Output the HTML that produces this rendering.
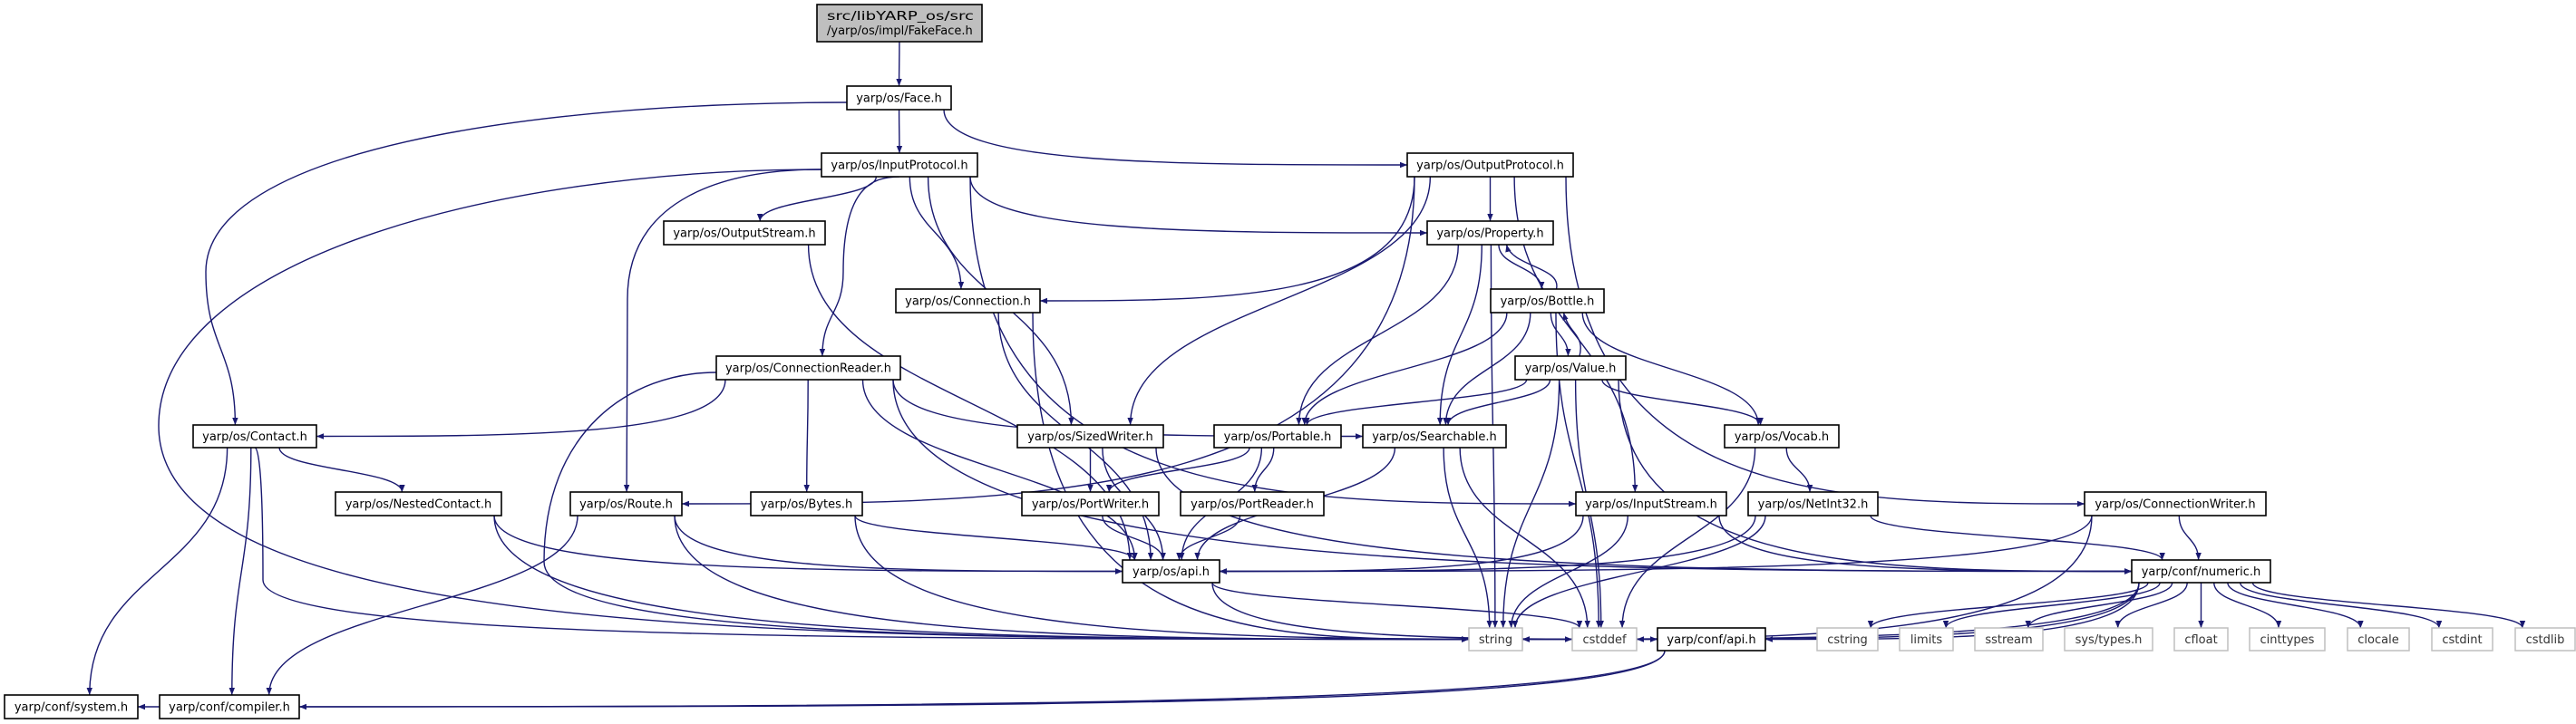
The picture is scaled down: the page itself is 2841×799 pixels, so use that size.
<!DOCTYPE html>
<html><head><meta charset="utf-8">
<style>
html,body{margin:0;padding:0;background:#fff;}
svg{display:block;}
text{font-family:"DejaVu Sans","Liberation Sans",sans-serif;font-size:13px;}
</style></head>
<body>
<svg id="g" width="2841" height="799" viewBox="0 0 2841 799" xmlns="http://www.w3.org/2000/svg">
<defs>
<marker id="ah" viewBox="0 0 10 10" refX="10" refY="5" markerWidth="8" markerHeight="8" markerUnits="userSpaceOnUse" orient="auto">
<path d="M0,1 L10,5 L0,9 z" fill="#191970"/>
</marker>
</defs>
<g id="edges"></g>
<g id="nodes"></g>
</svg>
<script>
const nodeIds = ["fake","face","inproto","outproto","outstream","property","connection","bottle","connreader","value","contact","sized","portable","searchable","vocab","nested","route","bytes","portwriter","portreader","instream","netint","connwriter","api","numeric","string","cstddef","confapi","cstring","limits","sstream","systypes","cfloat","cinttypes","clocale","cstdint","cstdlib","system","compiler"];
const nodeLabels = ["src/libYARP_os/src|/yarp/os/impl/FakeFace.h","yarp/os/Face.h","yarp/os/InputProtocol.h","yarp/os/OutputProtocol.h","yarp/os/OutputStream.h","yarp/os/Property.h","yarp/os/Connection.h","yarp/os/Bottle.h","yarp/os/ConnectionReader.h","yarp/os/Value.h","yarp/os/Contact.h","yarp/os/SizedWriter.h","yarp/os/Portable.h","yarp/os/Searchable.h","yarp/os/Vocab.h","yarp/os/NestedContact.h","yarp/os/Route.h","yarp/os/Bytes.h","yarp/os/PortWriter.h","yarp/os/PortReader.h","yarp/os/InputStream.h","yarp/os/NetInt32.h","yarp/os/ConnectionWriter.h","yarp/os/api.h","yarp/conf/numeric.h","string","cstddef","yarp/conf/api.h","cstring","limits","sstream","sys/types.h","cfloat","cinttypes","clocale","cstdint","cstdlib","yarp/conf/system.h","yarp/conf/compiler.h"];
const nodeX0 = [901,934,906,1552,732,1574,988,1644,790,1671,213,1122,1339,1503,1902,370,629,828,1127,1302,1738,1928,2299,1238,2351,1620,1734,1828,2004,2095,2178,2277,2398,2481,2589,2682,2774,5,176];
const nodeX1 = [1083,1049,1078,1735,910,1713,1147,1769,993,1793,349,1283,1479,1661,2028,553,752,951,1278,1460,1904,2071,2499,1345,2504,1679,1805,1947,2071,2154,2253,2374,2457,2564,2657,2749,2840,152,330];
const nodeY0 = [5,95,169,169,244,244,319,319,393,393,469,469,469,469,469,543,543,543,543,543,543,543,543,618,618,693,693,693,693,693,693,693,693,693,693,693,693,767,767];
const nodeH = [41,26,26,26,26,26,26,26,26,26,25,25,25,25,25,26,26,26,26,26,26,26,26,25,25,25,25,25,25,25,25,25,25,25,25,25,25,26,26];
const nodeKind = ["root","n","n","n","n","n","n","n","n","n","n","n","n","n","n","n","n","n","n","n","n","n","n","n","n","sys","sys","n","sys","sys","sys","sys","sys","sys","sys","sys","sys","n","n"];
const edgeFrom = ["fake","face","face","face","inproto","inproto","inproto","inproto","inproto","inproto","inproto","inproto","outproto","outproto","outproto","outproto","outproto","outproto","outstream","property","property","property","property","connection","connection","bottle","bottle","bottle","bottle","bottle","bottle","connreader","connreader","connreader","connreader","connreader","connreader","value","value","value","value","value","value","value","contact","contact","contact","contact","sized","sized","sized","portable","portable","portable","searchable","searchable","searchable","vocab","vocab","nested","nested","route","route","route","bytes","bytes","portwriter","portreader","instream","instream","instream","netint","netint","netint","connwriter","connwriter","connwriter","api","api","numeric","numeric","numeric","numeric","numeric","numeric","numeric","numeric","numeric","numeric","numeric","numeric","confapi","confapi"];
const edgeTo = ["face","contact","inproto","outproto","outstream","connection","connreader","route","sized","instream","property","string","connection","sized","property","route","instream","connwriter","api","portable","searchable","bottle","string","api","string","property","value","portable","searchable","vocab","cstddef","contact","bytes","searchable","string","api","numeric","bottle","portable","searchable","vocab","string","cstddef","numeric","nested","system","compiler","string","portwriter","api","numeric","portwriter","portreader","api","api","string","cstddef","netint","cstddef","api","string","api","string","compiler","api","cstddef","api","api","api","string","numeric","api","numeric","string","api","numeric","string","cstddef","confapi","string","cstddef","confapi","cstring","limits","sstream","systypes","cfloat","cinttypes","clocale","cstdint","cstdlib","system","compiler"];
const WP = {
  "face-contact":[227,300],
  "inproto-string":[175,470],
  "inproto-route":[692,330],
  "inproto-connreader":[930,300],
  "contact-string":[290,640],
  "connreader-string":[600,620]
};

const NS="http://www.w3.org/2000/svg";
const eg=document.getElementById('edges'), ng=document.getElementById('nodes');
const N={};
nodeIds.forEach((id,i)=>{N[id]={x0:nodeX0[i],x1:nodeX1[i],y0:nodeY0[i],y1:nodeY0[i]+nodeH[i],label:nodeLabels[i],kind:nodeKind[i]};});
function cx(n){return (n.x0+n.x1)/2;}
function cy(n){return (n.y0+n.y1)/2;}

edgeFrom.forEach((f,i)=>{
  const a=N[f], b=N[edgeTo[i]], key=f+'-'+edgeTo[i];
  let d;
  if (WP[key]) {
    const w=WP[key];
    let sx, sy;
    if (w[0] < a.x0) { sx=a.x0; sy=cy(a)+5; } else if (w[0] > a.x1) { sx=a.x1; sy=cy(a)+5; } else { sx=cx(a); sy=a.y1; }
    let tx, ty, approach;
    if (b.y0 - w[1] > 60 && w[0]>=b.x0-150 && w[0]<=b.x1+150) { tx=Math.max(b.x0+8,Math.min(b.x1-8,w[0]+(cx(b)-w[0])*0.6)); ty=b.y0; approach='v'; }
    else { tx = w[0] < b.x0 ? b.x0 : b.x1; ty=cy(b); approach='h'; }
    d=`M${sx},${sy} C${(sx+w[0])/2},${sy} ${w[0]},${(sy+w[1])/2-40} ${w[0]},${w[1]}`;
    if (approach==='v') d+=` C${w[0]},${(w[1]+ty)/2} ${tx},${(w[1]+ty)/2} ${tx},${ty}`;
    else d+=` C${w[0]},${ty} ${(w[0]+tx)/2},${ty} ${tx},${ty}`;
  } else if (b.y0 > a.y1) {
    let sx=cx(a), sy=a.y1;
    let tx=cx(b), ty=b.y0;
    const dx=tx-sx;
    sx = Math.max(a.x0+8, Math.min(a.x1-8, sx + dx*0.15));
    if (Math.abs(dx) > 500 && (b.y0 - a.y1) < 400) {
      ty=cy(b);
      tx = dx>0 ? b.x0 : b.x1;
      d=`M${sx},${sy} C${sx},${ty} ${(sx+tx)/2},${ty} ${tx},${ty}`;
    } else {
      tx = Math.max(b.x0+8, Math.min(b.x1-8, tx - dx*0.1));
      const my=(sy+ty)/2;
      d=`M${sx},${sy} C${sx},${my} ${tx},${my} ${tx},${ty}`;
    }
  } else if (b.y1 < a.y0) {
    const sx=cx(a)+10, sy=a.y0, tx=cx(b)+18, ty=b.y1;
    d=`M${sx},${sy} C${sx+6},${(sy+ty)/2} ${tx+6},${(sy+ty)/2} ${tx},${ty}`;
  } else {
    const sx = b.x0>a.x1? a.x1 : a.x0, tx = b.x0>a.x1? b.x0 : b.x1;
    const sy=cy(a), ty=cy(b);
    d=`M${sx},${sy} C${(sx+tx)/2},${sy} ${(sx+tx)/2},${ty} ${tx},${ty}`;
  }
  const p=document.createElementNS(NS,'path');
  p.setAttribute('d',d);
  p.setAttribute('fill','none');
  p.setAttribute('stroke','#191970');
  p.setAttribute('stroke-width','1.4');
  p.setAttribute('marker-end','url(#ah)');
  
  
  eg.appendChild(p);
});

nodeIds.forEach(id=>{
  const n=N[id];
  const g=document.createElementNS(NS,'g');
  
  
  const r=document.createElementNS(NS,'rect');
  r.setAttribute('x',n.x0);r.setAttribute('y',n.y0);
  r.setAttribute('width',n.x1-n.x0);r.setAttribute('height',n.y1-n.y0);
  r.setAttribute('fill', n.kind==='root' ? '#bfbfbf' : '#ffffff');
  r.setAttribute('stroke', n.kind==='sys' ? '#bfbfbf' : '#000000');
  r.setAttribute('stroke-width', n.kind==='sys' ? '1.5' : '1.6');
  
  
  g.appendChild(r);
  const lines=n.label.split('|');
  lines.forEach((ln,k)=>{
    const t=document.createElementNS(NS,'text');
    
    
    if (lines.length>1) {
      t.setAttribute('x', n.x0+11);
      t.setAttribute('y', n.y0+17+k*16);
    } else {
      t.setAttribute('x', cx(n));
      t.setAttribute('y', cy(n)+4.5);
      t.setAttribute('text-anchor','middle');
    }
    t.setAttribute('fill', n.kind==='sys' ? '#333333' : '#000000');
    t.textContent=ln;
    g.appendChild(t);
  });
  ng.appendChild(g);
});
ng.querySelectorAll('g').forEach(g=>{
  const r=g.querySelector('rect');
  const bw=parseFloat(r.getAttribute('width'));
  g.querySelectorAll('text').forEach(t=>{
    const w=t.getComputedTextLength();
    const target=bw-20;
    if (w>target || (w<target-6 && w>0)) {
      t.setAttribute('textLength', Math.max(10,target));
      t.setAttribute('lengthAdjust','spacingAndGlyphs');
    }
  });
});
</script>
</body></html>
